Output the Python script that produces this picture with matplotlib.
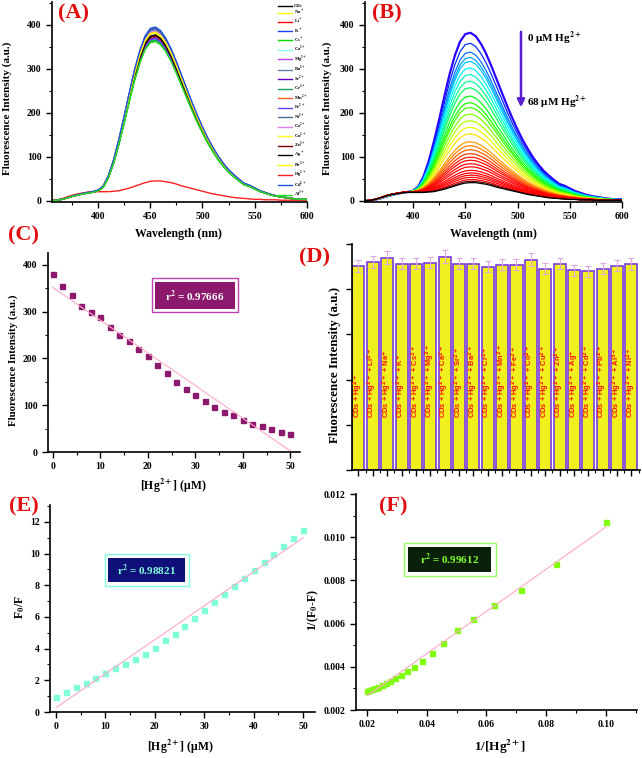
import numpy as np
import matplotlib
matplotlib.use('Agg')
import matplotlib.pyplot as plt
from matplotlib.patches import Rectangle, FancyArrowPatch
from matplotlib.ticker import MultipleLocator, FormatStrFormatter

plt.rcParams.update({
    'font.family': ['Liberation Serif', 'DejaVu Serif'],
    'font.weight': 'bold',
    'mathtext.fontset': 'stix',
    'axes.linewidth': 1.2,
})

# ---------------- data ----------------
wavelength = [355, 360, 365, 370, 375, 380, 385, 390, 395, 400, 405, 410, 415, 420, 425,
              430, 435, 440, 445, 450, 455, 460, 465, 470, 475, 480, 485, 490, 495, 500,
              505, 510, 515, 520, 525, 530, 535, 540, 545, 550, 555, 560, 565, 570, 575,
              580, 585, 590, 595, 600]
# emission profile of unquenched CDs
spec_high = [0, 1, 3, 6, 10, 13, 16, 18, 20, 23, 32, 55, 90, 135, 185,
             238, 288, 330, 362, 379, 382, 374, 357, 334, 306, 276, 246, 216, 188, 162,
             138, 117, 98, 82, 68, 57, 47, 38, 34, 28, 22, 18, 14, 11, 9,
             7, 5, 4, 3, 3]
# emission profile with Hg2+ (quenched)
spec_low = [0, 1, 4, 8, 12, 15, 17, 19, 20, 20, 20, 20, 21, 22, 25,
            28, 32, 36, 40, 43, 44, 44, 42, 40, 37, 33, 30, 27, 24, 21,
            18, 15, 13, 11, 9, 7, 6, 5, 4, 3, 3, 2, 2, 2, 1,
            1, 1, 1, 1, 1]

ions_a = ['CDs', 'Na$^+$', 'Li$^+$', 'K$^+$', 'Cs$^+$', 'Ca$^{2+}$', 'Mg$^{2+}$', 'Ba$^{2+}$',
          'Sr$^{2+}$', 'Cr$^{2+}$', 'Mn$^{2+}$', 'Fe$^{2+}$', 'Ni$^{2+}$', 'Co$^{2+}$',
          'Cu$^{2+}$', 'Zn$^{2+}$', 'Ag$^+$', 'Pb$^{2+}$', 'Hg$^{2+}$', 'Cd$^{2+}$', 'Al$^{3+}$']
peaks_a = [376, 382, 372, 393, 364, 386, 389, 390, 371, 366, 374, 369, 391, 385,
           381, 375, 377, 383, 45, 395, 362]
colors_a = ['#000000', '#ffff00', '#ff0000', '#2040ff', '#00dd00', '#80ffee', '#c040ff', '#6080a8',
            '#6000c0', '#20a060', '#ff6030', '#6040ff', '#507090', '#e080e0',
            '#ffff20', '#800000', '#000000', '#ffff00', '#ff2020', '#2050e0', '#20e020']

peaks_b = [382, 358, 338, 326, 317, 302, 287, 272, 257, 238, 223, 212, 197, 182, 167, 152,
           134, 125, 116, 107, 99, 92, 84, 77, 69, 63, 58, 53, 48, 44, 41]

hg_c = [0, 2, 4, 6, 8, 10, 12, 14, 16, 18, 20, 22, 24, 26, 28, 30, 32, 34, 36, 38, 40,
        42, 44, 46, 48, 50]
fl_c = [381, 355, 335, 312, 299, 288, 267, 250, 237, 221, 206, 186, 168, 150, 134, 121,
        109, 97, 85, 79, 69, 60, 55, 49, 42, 39]

labels_d = ['CDs + Hg$^{2+}$', 'CDs + Hg$^{2+}$ + Li$^{2+}$', 'CDs + Hg$^{2+}$ + Na$^{+}$',
            'CDs + Hg$^{2+}$ + K$^{+}$', 'CDs + Hg$^{2+}$ + Cs$^{2+}$', 'CDs + Hg$^{2+}$ + Mg$^{2+}$',
            'CDs + Hg$^{2+}$ + Ca$^{2+}$', 'CDs + Hg$^{2+}$ + Sr$^{2+}$', 'CDs + Hg$^{2+}$ + Ba$^{2+}$',
            'CDs + Hg$^{2+}$ + Cr$^{2+}$', 'CDs + Hg$^{2+}$ + Mn$^{2+}$', 'CDs + Hg$^{2+}$ + Fe$^{2+}$',
            'CDs + Hg$^{2+}$ + Co$^{2+}$', 'CDs + Hg$^{2+}$ + Cu$^{2+}$', 'CDs + Hg$^{2+}$ + Zn$^{2+}$',
            'CDs + Hg$^{2+}$ + Ag$^{+}$', 'CDs + Hg$^{2+}$ + Cd$^{2+}$', 'CDs + Hg$^{2+}$ + Pb$^{2+}$',
            'CDs + Hg$^{2+}$ + Al$^{3+}$', 'CDs + Hg$^{2+}$ + Ni$^{2+}$']
vals_d = [452, 461, 470, 456, 456, 459, 472, 456, 456, 450, 454, 454, 465, 445, 456,
          442, 440, 445, 452, 456]
errs_d = [13, 13, 14, 12, 12, 13, 15, 12, 12, 12, 12, 12, 14, 12, 12, 12, 12, 12, 12, 13]

hg_e = hg_c
f0f_e = [0.95, 1.24, 1.56, 1.83, 2.15, 2.44, 2.76, 3.05, 3.35, 3.66, 4.04, 4.57, 4.95, 5.45,
         5.96, 6.44, 6.97, 7.47, 7.96, 8.46, 8.97, 9.45, 9.96, 10.46, 10.97, 11.47]

inv_hg_f = [0.1, 0.0833, 0.0714, 0.0625, 0.0556, 0.05, 0.0455, 0.0417, 0.0385, 0.0357,
            0.0333, 0.03125, 0.0294, 0.0278, 0.0263, 0.025, 0.0238, 0.0227, 0.0217, 0.0208, 0.02]
inv_df_f = [0.01069, 0.00874, 0.00757, 0.00688, 0.00622, 0.00569, 0.00508, 0.00465, 0.00429,
            0.00400, 0.00382, 0.00363, 0.00349, 0.00334, 0.00326, 0.00315, 0.00308, 0.00302,
            0.00297, 0.00291, 0.00289]

# ---------------- layout helpers ----------------
W, H = 642, 758
fig = plt.figure(figsize=(W / 100, H / 100), dpi=100)


def ax_px(l, t, r, b):
    return fig.add_axes([l / W, 1 - b / H, (r - l) / W, (b - t) / H])


def ftext(x, y, s, **kw):
    return fig.text(x / W, 1 - y / H, s, **kw)


def rect(l, t, r, b, **kw):
    fig.add_artist(Rectangle((l / W, 1 - b / H), (r - l) / W, (b - t) / H,
                             transform=fig.transFigure, **kw))


def style(ax, labelsize=7):
    for s in ['top', 'right']:
        ax.spines[s].set_visible(False)
    ax.tick_params(which='major', direction='out', length=4, width=1, labelsize=labelsize)
    ax.tick_params(which='minor', direction='out', length=2, width=0.8)


wl = np.array(wavelength, float)
hi = np.array(spec_high, float)
lo = np.array(spec_low, float)

# ---------------- (A) ----------------
axa = ax_px(52, 2, 307, 202)
for name, pk, col in zip(ions_a, peaks_a, colors_a):
    if name.startswith('Hg'):
        y = lo * pk / lo.max()
    else:
        y = hi * pk / hi.max()
    axa.plot(wl, y, color=col, lw=1.0, label=name)
axa.set_xlim(356, 600)
axa.set_ylim(-3, 452)
axa.xaxis.set_major_locator(MultipleLocator(50))
axa.xaxis.set_minor_locator(MultipleLocator(25))
axa.yaxis.set_major_locator(MultipleLocator(100))
axa.yaxis.set_minor_locator(MultipleLocator(50))
style(axa)
axa.legend(loc='upper left', bbox_to_anchor=(278 / W, 1 - 4 / H), bbox_transform=fig.transFigure,
           frameon=False, fontsize=3.3, handlelength=3.1, labelspacing=0.0, borderpad=0,
           handletextpad=0.3, borderaxespad=0)

# ---------------- (B) ----------------
axb = ax_px(365, 2, 622, 202)
cmap = plt.get_cmap('gist_rainbow')
nb = len(peaks_b)
for i, pk in enumerate(peaks_b):
    if pk <= lo.max():
        y = lo * pk / lo.max()
    else:
        f = (pk - lo.max()) / (hi.max() - lo.max())
        y = lo + f * (hi - lo)
    t = max(0.03, 0.03 + (pk - 90) / (382 - 90) * 0.77)
    col = cmap(t)
    if i == nb - 1:
        col = '#000000'
    elif i == nb - 2:
        col = '#700000'
    axb.plot(wl, y, color=col, lw=1.6 if i == 0 else 0.9)
axb.set_xlim(354, 600)
axb.set_ylim(-3, 452)
axb.xaxis.set_major_locator(MultipleLocator(50))
axb.xaxis.set_minor_locator(MultipleLocator(25))
axb.yaxis.set_major_locator(MultipleLocator(100))
axb.yaxis.set_minor_locator(MultipleLocator(50))
style(axb)
fig.add_artist(FancyArrowPatch((521 / W, 1 - 29 / H), (521 / W, 1 - 110 / H),
                               transform=fig.transFigure, arrowstyle='-|>', mutation_scale=11,
                               color='#5a1fd0', lw=1.8))
ftext(527, 38, '0 μM Hg$^{2+}$', fontsize=8, ha='left', va='center')
ftext(527, 102, '68 μM Hg$^{2+}$', fontsize=8, ha='left', va='center')

# ---------------- (C) ----------------
axc = ax_px(48, 253, 300, 452)
axc.plot(hg_c, fl_c, 's', color='#8b1a6e', ms=3.6, mec='#8b1a6e')
pc = np.polyfit(hg_c, fl_c, 1)
xc = np.array([hg_c[0], hg_c[-1]], float)
axc.plot(xc, np.polyval(pc, xc), color='#ffa8c8', lw=0.8)
axc.set_xlim(-1, 52)
axc.set_ylim(0, 425)
axc.xaxis.set_major_locator(MultipleLocator(10))
axc.xaxis.set_minor_locator(MultipleLocator(5))
axc.yaxis.set_major_locator(MultipleLocator(100))
axc.yaxis.set_minor_locator(MultipleLocator(50))
style(axc)
rect(152, 278, 238, 312, facecolor='white', edgecolor='#c040b0', lw=1.0)
rect(154.5, 282, 235.5, 309, facecolor='#8b1a6e', edgecolor='none')
ftext(195, 296, 'r$^2$ = 0.97666', fontsize=8, color='white', ha='center', va='center')

# ---------------- (D) ----------------
axd = ax_px(352, 244, 640, 470)
xd = np.arange(len(vals_d))
axd.bar(xd, vals_d, width=0.84, color='#f0f01e', edgecolor='#7a3ce0', linewidth=1.2,
        yerr=errs_d, error_kw=dict(ecolor='#e0a8e0', elinewidth=0.8, capsize=2.5, capthick=0.8))
for i, lab in enumerate(labels_d):
    axd.text(xd[i], 115, lab, rotation=90, ha='center', va='bottom', color='#ff1010',
             fontsize=5.4, family='Liberation Sans', weight='bold', math_fontfamily='dejavusans')
axd.set_xlim(-0.45, 19.6)
axd.set_ylim(0, 500)
axd.set_xticks(xd)
axd.set_xticklabels([])
axd.xaxis.set_minor_locator(MultipleLocator(0.5))
axd.set_yticks([0, 100, 200, 300, 400, 500])
axd.set_yticklabels([])
style(axd)

# ---------------- (E) ----------------
axe = ax_px(50, 505, 315, 712)
axe.plot(hg_e, f0f_e, 's', color='#80ffd8', ms=3.6, mec='#80ffd8')
pe = np.polyfit(hg_e, f0f_e, 1)
xe = np.array([hg_e[0], hg_e[-1]], float)
axe.plot(xe, np.polyval(pe, xe), color='#ffa8c8', lw=0.8)
axe.set_xlim(-1.2, 52.4)
axe.set_ylim(0, 13.07)
axe.xaxis.set_major_locator(MultipleLocator(10))
axe.xaxis.set_minor_locator(MultipleLocator(5))
axe.yaxis.set_major_locator(MultipleLocator(2))
axe.yaxis.set_minor_locator(MultipleLocator(1))
style(axe)
rect(104.5, 553.5, 189.5, 586, facecolor='white', edgecolor='#80ffe0', lw=1.0)
rect(107.5, 557.5, 185, 582, facecolor='#10107a', edgecolor='none')
ftext(146, 570, 'r$^2$ = 0.98821', fontsize=8, color='#80ffd8', ha='center', va='center')

# ---------------- (F) ----------------
axf = ax_px(356, 494, 637, 710)
axf.plot(inv_hg_f, inv_df_f, 's', color='#80ff10', ms=3.6, mec='#80ff10')
pf = np.polyfit(inv_hg_f, inv_df_f, 1)
xf = np.array([min(inv_hg_f), max(inv_hg_f)], float)
axf.plot(xf, np.polyval(pf, xf), color='#ffa8c8', lw=0.8)
axf.set_xlim(0.0163, 0.1104)
axf.set_ylim(0.002, 0.012)
axf.xaxis.set_major_locator(MultipleLocator(0.02))
axf.xaxis.set_minor_locator(MultipleLocator(0.01))
axf.yaxis.set_major_locator(MultipleLocator(0.002))
axf.yaxis.set_minor_locator(MultipleLocator(0.001))
axf.xaxis.set_major_formatter(FormatStrFormatter('%.2f'))
axf.yaxis.set_major_formatter(FormatStrFormatter('%.3f'))
style(axf)
rect(404, 542.5, 496, 576, facecolor='white', edgecolor='#90ff60', lw=1.0)
rect(408, 546.5, 491, 572, facecolor='#0a200a', edgecolor='none')
ftext(450, 559, 'r$^2$ = 0.99612', fontsize=8, color='#80ff30', ha='center', va='center')

# ---------------- text labels ----------------
red = '#e01010'
for s, x, y in [('(A)', 58, 13), ('(B)', 372, 13), ('(C)', 8, 235),
                ('(D)', 299, 257), ('(E)', 9, 506), ('(F)', 379, 506)]:
    ftext(x, y, s, fontsize=16, color=red, ha='left', va='center')

ftext(178, 234, 'Wavelength (nm)', fontsize=8.5, ha='center', va='center')
ftext(493, 234, 'Wavelength (nm)', fontsize=8.5, ha='center', va='center')
ftext(7, 108, 'Fluorescence Intensity (a.u.)', fontsize=8, rotation=90, ha='center', va='center')
ftext(327, 108, 'Fluorescence Intensity (a.u.)', fontsize=8, rotation=90, ha='center', va='center')
ftext(13, 360, 'Fluorescence Intensity (a.u.)', fontsize=7.8, rotation=90, ha='center', va='center')
ftext(335, 365, 'Fluorescence Intensity (a.u.)', fontsize=9.3, rotation=90, ha='center', va='center')
ftext(173, 486, '[Hg$^{2+}$] (μM)', fontsize=8.5, ha='center', va='center')
ftext(180, 747, '[Hg$^{2+}$] (μM)', fontsize=8.5, ha='center', va='center')
ftext(20, 607, 'F$_0$/F', fontsize=8.5, rotation=90, ha='center', va='center')
ftext(313, 610, '1/(F$_0$-F)', fontsize=8.5, rotation=90, ha='center', va='center')
ftext(500, 747, '1/[Hg$^{2+}$]', fontsize=9.5, ha='center', va='center')

fig.savefig('out.png', dpi=100)
